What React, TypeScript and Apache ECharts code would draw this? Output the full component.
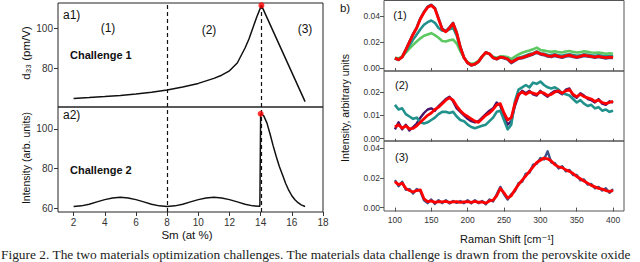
import React, { useEffect, useRef } from "react";
import * as echarts from "echarts";

// ---------- Left panels (Sm at %) ----------
const SM_TICKS = [2, 4, 6, 8, 10, 12, 14, 16, 18];
const A1_X = [2, 3, 4, 5, 6, 7, 8, 9, 10, 11, 11.5, 12, 12.5, 13, 13.25, 13.5, 13.75, 14.05, 16.85];
const A1_Y = [64.8, 65.2, 65.7, 66.3, 67.0, 67.9, 69.0, 70.5, 72.3, 74.8, 76.4, 78.6, 82.5, 90.0, 94.5, 100.0, 105.5, 111.3, 63.2];
const A1_TICKS = [80, 100];
const A1_BEST = [14.05, 111.3];

const A2_X = [2, 2.5, 3, 3.5, 4, 4.5, 5, 5.5, 6, 6.5, 7, 7.5, 8, 8.5, 9, 9.5, 10, 10.5, 11, 11.5, 12, 12.5, 13, 13.5, 13.95, 14.0, 14.2, 14.4, 14.6, 14.8, 15.0, 15.2, 15.4, 15.6, 15.8, 16.0, 16.2, 16.4, 16.6, 16.85];
const A2_Y = [60.8, 61.1, 61.95, 63.1, 64.25, 65.1, 65.4, 65.1, 64.25, 63.1, 61.95, 61.1, 60.8, 61.1, 61.95, 63.1, 64.25, 65.1, 65.4, 65.1, 64.25, 63.1, 61.95, 61.1, 60.9, 107.5, 106.5, 103.0, 97.5, 91.5, 86.0, 81.0, 76.8, 72.5, 69.0, 66.2, 64.2, 62.7, 61.6, 60.8];
const A2_TICKS = [60, 80, 100];
const A2_BEST = [14.0, 107.6];
const REGION_BOUNDS = [8, 14.05];

// ---------- Right panels (Raman spectra, values in 1e-3 units) ----------
const RAMAN_X = [100, 105, 110, 115, 120, 125, 130, 135, 140, 145, 150, 155, 160, 165, 170, 175, 180, 185, 190, 195, 200, 205, 210, 215, 220, 225, 230, 235, 240, 245, 250, 255, 260, 265, 270, 275, 280, 285, 290, 295, 300, 305, 310, 315, 320, 325, 330, 335, 340, 345, 350, 355, 360, 365, 370, 375, 380, 385, 390, 395, 400];
const RAMAN_TICKS = [100, 150, 200, 250, 300, 350, 400];

const P1_NAVY = [7.4, 6.2, 8.8, 14.5, 20.5, 26.5, 31.5, 38.5, 43.5, 47.5, 49, 46.5, 38.5, 30.5, 28.5, 31.5, 35, 27.5, 16.5, 8.2, 3.8, 2.0, 2.8, 4.8, 8.8, 12.2, 10.8, 7.8, 6.8, 8.2, 7.6, 6.6, 3.8, 5.6, 7.2, 7.6, 8.6, 9.5, 10.5, 12, 10.5, 10, 9, 8.6, 9.4, 8.5, 8, 9, 9.4, 8.5, 8, 8.5, 9.4, 9, 8.5, 8, 8.5, 8, 7.5, 8, 7.8];
const P1_GREEN = [8, 7.5, 9, 12, 15, 18, 20.5, 23, 25, 26, 27, 25.5, 23.5, 21, 20.5, 21.5, 22, 19, 13, 8, 4.5, 3.2, 3.8, 5.5, 9, 11.5, 11, 8.8, 8, 9, 9, 8.5, 7, 8.8, 10.5, 11.8, 12.8, 13.5, 14.5, 15.8, 14, 13.5, 13, 12.5, 13, 12.3, 12, 12.8, 13.2, 12.5, 12, 12.3, 13, 12.5, 12, 11.8, 12, 11.6, 11, 11.4, 11];
const P1_TEAL = [7.5, 6.8, 8.5, 13, 17.5, 22, 26, 30, 33.5, 35.5, 36.8, 35, 31, 29, 28.5, 30, 31, 25, 15, 8, 4, 2.5, 3.2, 5.2, 9, 12, 11, 8.2, 7.3, 8.5, 8.2, 7.2, 5, 6.5, 8, 8.8, 9.8, 10.8, 11.5, 12.8, 11.5, 11, 10.3, 10, 10.6, 9.8, 9.5, 10.2, 10.6, 10, 9.5, 9.8, 10.6, 10.2, 9.8, 9.5, 9.8, 9.5, 9, 9.3, 9];
const P1_RED = [7.7, 6.5, 8.5, 14, 20, 26, 31, 38, 43, 47, 48.5, 46, 38, 30, 28, 31, 34.5, 27, 16, 8, 4, 2.3, 3, 5, 9, 12, 11, 8, 7, 8.5, 8, 7, 4.5, 6, 7.5, 8, 9, 10, 11, 12.5, 11, 10.5, 9.5, 9, 10, 9, 8.5, 9.5, 10, 9, 8.5, 9, 10, 9.5, 9, 8.5, 9, 8.5, 8, 8.5, 8.2];
const P1_TICKS = [0, 0.02, 0.04];

const P2_PURPLE = [4, 7, 4, 6, 3.5, 5, 6.5, 9, 11, 12.5, 13, 12, 14, 15.5, 17, 18, 16, 13, 11.5, 10, 8.5, 7.5, 7, 7.5, 9, 10.5, 12, 13, 15.5, 14, 9, 6, 7.5, 14, 18.5, 20.5, 19.5, 20.5, 19, 18.5, 20.5, 19, 18, 19.5, 20.5, 20, 19, 21, 21.5, 18.5, 17.5, 19.5, 18.5, 17, 16.5, 15.5, 17, 15, 14.5, 16, 15.5];
const P2_TEAL = [14.5, 12.5, 13, 10.5, 9.5, 8.5, 9, 7, 6.5, 7, 8, 9, 10.5, 11.5, 11.5, 11, 11.5, 9.5, 8, 7.5, 6, 5, 4.5, 5, 5.5, 6, 7.5, 9, 11.5, 12, 8, 4, 6, 16, 21, 22, 23, 22, 24, 23.5, 24.5, 23, 22, 21.5, 22, 21, 19.5, 19, 18.5, 17, 15.5, 16.5, 15, 14, 14.5, 13, 13.5, 12, 12.5, 11.5, 12];
const P2_RED = [5, 6, 4.5, 5.5, 4.2, 4.4, 5.5, 7, 8.5, 10, 11, 12.5, 13.5, 15, 16.5, 17.5, 16.5, 14, 12, 10.5, 9.5, 8.5, 7.5, 7, 8.5, 10, 11, 12.5, 14.5, 15, 11, 8, 9, 15, 19, 20, 19, 20, 19.5, 19, 20, 19.5, 18.5, 19, 20, 20.5, 19.5, 20.5, 21, 19, 18, 19, 18, 17.5, 17, 16, 16.5, 15.5, 15, 15.5, 16];
const P2_TICKS = [0, 0.01, 0.02];

const P3_NAVY = [18.5, 14.5, 17.5, 12, 12.5, 9.5, 12.5, 11, 5, 3, 5.5, 2.5, 5, 3, 5, 2.8, 4.5, 3.2, 4.5, 3, 5, 2.8, 5, 3, 4.5, 2.2, 5.5, 4.2, 9, 14, 9, 5.5, 9, 11, 16.5, 17.5, 23, 23.5, 29, 29.5, 33.5, 32.5, 38, 30.5, 30, 26.5, 28, 24.5, 25.5, 22, 22, 18.5, 19, 15.5, 16, 13, 14, 11.5, 13, 10, 12.5];
const P3_RED = [17.5, 15.5, 16.5, 13, 11.5, 10.5, 11.5, 12, 6, 4, 4.5, 3.5, 4, 3.8, 4.2, 3.5, 3.8, 4, 3.5, 3.8, 4, 3.5, 4.2, 3.6, 3.8, 3, 4.5, 5, 8, 13, 10, 6.5, 8, 12, 15.5, 18.5, 21.5, 24.5, 27.5, 30.5, 32, 33.5, 33, 31.5, 29, 27.5, 27, 25.5, 24.5, 23, 21, 19.5, 18, 16.5, 15, 14, 13, 12.5, 11.5, 11, 11.5];
const P3_TICKS = [0, 0.02, 0.04];

const NAVY = "#3b528b";
const PURPLE = "#46156b";
const TEAL = "#21918c";
const GREEN = "#5ec962";
const RED = "#ff0000";

const SANS = "'Liberation Sans', 'DejaVu Sans', sans-serif";

function pairs(xs: number[], ys: number[], scale = 1) {
  return ys.map((v, i) => [xs[i], v * scale]);
}

function spec(name: string, grid: number, ys: number[], color: string, width = 2) {
  return {
    name,
    type: "line",
    xAxisIndex: grid,
    yAxisIndex: grid,
    data: pairs(RAMAN_X, ys, 0.001),
    showSymbol: false,
    symbol: "none",
    lineStyle: { color, width, join: "round" },
    silent: true,
  };
}

export default function App() {
  const ref = useRef<HTMLDivElement>(null);
  useEffect(() => {
    if (!ref.current) return;
    const chart = echarts.init(ref.current, undefined, { renderer: "svg" });
    const leftBorder = "#222";
    const rightBorder = "#555";
    const grids = [
      { left: 58, top: 3, width: 265, height: 104, show: true, borderColor: leftBorder, borderWidth: 1, backgroundColor: "transparent" },
      { left: 58, top: 107, width: 265, height: 105, show: true, borderColor: leftBorder, borderWidth: 1, backgroundColor: "transparent" },
      { left: 384, top: 0.5, width: 240, height: 70.5, show: true, borderColor: rightBorder, borderWidth: 1, backgroundColor: "transparent" },
      { left: 384, top: 71, width: 240, height: 70, show: true, borderColor: rightBorder, borderWidth: 1, backgroundColor: "transparent" },
      { left: 384, top: 141, width: 240, height: 70, show: true, borderColor: rightBorder, borderWidth: 1, backgroundColor: "transparent" },
    ];
    const tickLabelLeft = { color: "#333", fontSize: 10, fontFamily: SANS, margin: 5 };
    const tickLabelRight = { color: "#333", fontSize: 8.5, fontFamily: SANS, margin: 4 };
    const xAxes = [
      { gridIndex: 0, type: "value", min: 1, max: 18, axisLine: { show: false }, axisTick: { show: false }, axisLabel: { show: false }, splitLine: { show: false } },
      {
        gridIndex: 1, type: "value", min: 1, max: 18, axisLine: { show: false }, splitLine: { show: false },
        axisTick: { show: true, length: 4, lineStyle: { color: "#333" }, customValues: SM_TICKS },
        axisLabel: { ...tickLabelLeft, customValues: SM_TICKS },
      },
      { gridIndex: 2, type: "value", min: 85, max: 415, axisLine: { show: false }, splitLine: { show: false }, axisLabel: { show: false }, axisTick: { show: true, length: 3, lineStyle: { color: "#555" }, customValues: RAMAN_TICKS } },
      { gridIndex: 3, type: "value", min: 85, max: 415, axisLine: { show: false }, splitLine: { show: false }, axisLabel: { show: false }, axisTick: { show: true, length: 3, lineStyle: { color: "#555" }, customValues: RAMAN_TICKS } },
      {
        gridIndex: 4, type: "value", min: 85, max: 415, axisLine: { show: false }, splitLine: { show: false },
        axisTick: { show: true, length: 4, lineStyle: { color: "#555" }, customValues: RAMAN_TICKS },
        axisLabel: { ...tickLabelRight, customValues: RAMAN_TICKS },
      },
    ];
    const fmt2 = (v: number) => v.toFixed(2);
    const yAxes = [
      {
        gridIndex: 0, type: "value", min: 60.5, max: 112.5, axisLine: { show: false }, splitLine: { show: false },
        axisTick: { show: true, length: 4, lineStyle: { color: "#333" }, customValues: A1_TICKS },
        axisLabel: { ...tickLabelLeft, customValues: A1_TICKS },
      },
      {
        gridIndex: 1, type: "value", min: 58, max: 111, axisLine: { show: false }, splitLine: { show: false },
        axisTick: { show: true, length: 4, lineStyle: { color: "#333" }, customValues: A2_TICKS },
        axisLabel: { ...tickLabelLeft, customValues: A2_TICKS },
      },
      {
        gridIndex: 2, type: "value", min: -0.0023, max: 0.0523, axisLine: { show: false }, splitLine: { show: false },
        axisTick: { show: true, length: 4, lineStyle: { color: "#555" }, customValues: P1_TICKS },
        axisLabel: { ...tickLabelRight, customValues: P1_TICKS, formatter: fmt2 },
      },
      {
        gridIndex: 3, type: "value", min: -0.001, max: 0.029, axisLine: { show: false }, splitLine: { show: false },
        axisTick: { show: true, length: 4, lineStyle: { color: "#555" }, customValues: P2_TICKS },
        axisLabel: { ...tickLabelRight, customValues: P2_TICKS, formatter: fmt2 },
      },
      {
        gridIndex: 4, type: "value", min: -0.0023, max: 0.045, axisLine: { show: false }, splitLine: { show: false },
        axisTick: { show: true, length: 4, lineStyle: { color: "#555" }, customValues: P3_TICKS },
        axisLabel: { ...tickLabelRight, customValues: P3_TICKS, formatter: fmt2 },
      },
    ];
    const markLine = {
      silent: true,
      symbol: ["none", "none"],
      label: { show: false },
      lineStyle: { color: "#111", type: [4, 3], width: 1.2 },
      data: REGION_BOUNDS.map((x) => ({ xAxis: x })),
    };
    const series: any[] = [
      { type: "line", xAxisIndex: 0, yAxisIndex: 0, data: pairs(A1_X, A1_Y), showSymbol: false, symbol: "none", lineStyle: { color: "#111", width: 1.5 }, markLine, silent: true },
      { type: "line", xAxisIndex: 1, yAxisIndex: 1, data: pairs(A2_X, A2_Y), showSymbol: false, symbol: "none", lineStyle: { color: "#111", width: 1.5 }, markLine, silent: true },
      { type: "scatter", xAxisIndex: 0, yAxisIndex: 0, data: [A1_BEST], symbolSize: 6, itemStyle: { color: RED }, z: 5, silent: true },
      { type: "scatter", xAxisIndex: 1, yAxisIndex: 1, data: [A2_BEST], symbolSize: 6, itemStyle: { color: RED }, z: 5, silent: true },
      spec("p1 navy", 2, P1_NAVY, NAVY, 2.6),
      spec("p1 green", 2, P1_GREEN, GREEN, 2.6),
      spec("p1 teal", 2, P1_TEAL, TEAL, 2.6),
      spec("p1 red", 2, P1_RED, RED, 2.8),
      spec("p2 purple", 3, P2_PURPLE, PURPLE, 2.4),
      spec("p2 teal", 3, P2_TEAL, TEAL, 2.6),
      spec("p2 red", 3, P2_RED, RED, 2.8),
      spec("p3 navy", 4, P3_NAVY, NAVY, 2.4),
      spec("p3 red", 4, P3_RED, RED, 2.8),
    ];
    const txt = (text: string, x: number, y: number, opts: any = {}) => ({
      type: "text",
      x,
      y,
      rotation: opts.rotation || 0,
      silent: true,
      style: {
        text,
        fill: opts.fill || "#111",
        font: `${opts.weight || "normal"} ${opts.size || 12}px ${opts.family || SANS}`,
        align: opts.align || "center",
        verticalAlign: opts.valign || "middle",
      },
    });
    const graphic = [
      txt("a1)", 63, 15, { align: "left" }),
      txt("(1)", 108, 28),
      txt("(2)", 209, 30),
      txt("(3)", 305, 29),
      txt("Challenge 1", 70, 55, { align: "left", weight: "bold", size: 11 }),
      txt("a2)", 63, 115, { align: "left" }),
      txt("Challenge 2", 70, 170, { align: "left", weight: "bold", size: 11 }),
      txt("d₃₃ (pm/V)", 26, 53, { rotation: Math.PI / 2, size: 11.5 }),
      txt("Intensity (arb. units)", 26, 158, { rotation: Math.PI / 2, size: 10.5 }),
      txt("Sm (at %)", 187, 235, { size: 11.5 }),
      txt("b)", 345, 8, { size: 11.5 }),
      txt("(1)", 400, 15, { size: 11 }),
      txt("(2)", 401.7, 85, { size: 11 }),
      txt("(3)", 401.7, 156.7, { size: 11 }),
      txt("Intensity, arbitrary units", 345, 108, { rotation: Math.PI / 2, size: 10.5 }),
      txt("Raman Shift [cm⁻¹]", 507, 239, { size: 11 }),
      txt("Figure 2. The two materials optimization challenges. The materials data challenge is drawn from the perovskite oxide", 1, 261, { align: "left", valign: "bottom", size: 13.4, family: "'Liberation Serif', 'DejaVu Serif', serif", fill: "#222" }),
    ];
    chart.setOption({
      animation: false,
      backgroundColor: "#fff",
      grid: grids,
      xAxis: xAxes,
      yAxis: yAxes,
      series,
      graphic,
    });
    return () => chart.dispose();
  }, []);
  return <div ref={ref} style={{ position: "fixed", left: 0, top: 0, width: 640, height: 262 }} />;
}
